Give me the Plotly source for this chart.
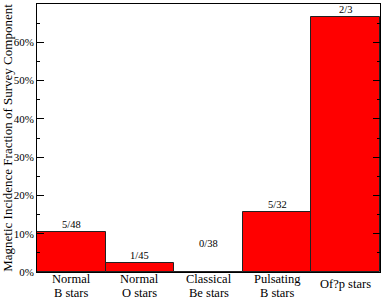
import plotly.graph_objects as go

categories = ["Normal B stars", "Normal O stars", "Classical Be stars", "Pulsating B stars", "Of?p stars"]
label_line1 = ["Normal", "Normal", "Classical", "Pulsating", "Of?p stars"]
label_line2 = ["B stars", "O stars", "Be stars", "B stars", ""]
detected = [5, 1, 0, 5, 2]
surveyed = [48, 45, 38, 32, 3]
fraction_labels = ["5/48", "1/45", "0/38", "5/32", "2/3"]
percent = [100.0 * d / n for d, n in zip(detected, surveyed)]
label_y = [percent[0], percent[1], 5.6, percent[3], percent[4]]

serif = "Liberation Serif"

fig = go.Figure()
fig.add_trace(go.Bar(
    x=categories, y=percent,
    marker=dict(color="#ff0000", line=dict(color="#222222", width=1)),
    width=1.0,
    hoverinfo="skip",
))

for c, t, y in zip(categories, fraction_labels, label_y):
    fig.add_annotation(x=c, y=y, text=t, showarrow=False, yanchor="bottom",
                       yshift=0, font=dict(family=serif, size=10.5, color="black"))

# category labels (two lines with tight spacing)
for c, l1, l2 in zip(categories, label_line1, label_line2):
    if l2:
        fig.add_annotation(x=c, y=0, yref="paper", text=l1, showarrow=False,
                           yanchor="middle", yshift=-6.5, borderpad=0,
                           font=dict(family=serif, size=12.5, color="black"))
        fig.add_annotation(x=c, y=0, yref="paper", text=l2, showarrow=False,
                           yanchor="middle", yshift=-20.5, borderpad=0,
                           font=dict(family=serif, size=12.5, color="black"))
    else:
        fig.add_annotation(x=c, y=0, yref="paper", text=l1, showarrow=False,
                           yanchor="middle", yshift=-11.5, borderpad=0,
                           font=dict(family=serif, size=12.5, color="black"))

fig.update_layout(
    width=381, height=297,
    margin=dict(l=37, r=1, t=4, b=25),
    paper_bgcolor="white", plot_bgcolor="white",
    showlegend=False,
    bargap=0,
    font=dict(family=serif, color="black"),
)
fig.update_xaxes(
    showline=True, linecolor="black", linewidth=1, mirror=True,
    ticks="", showgrid=False, showticklabels=False,
    range=[-0.5, 4.5], automargin=False,
)
fig.update_yaxes(
    range=[0, 70], dtick=10, ticksuffix="%",
    showline=True, linecolor="black", linewidth=1, mirror="ticks",
    ticks="inside", ticklen=7, tickwidth=1, tickcolor="black",
    minor=dict(dtick=5, ticks="inside", ticklen=3, tickcolor="black", showgrid=False),
    showgrid=False, zeroline=False, automargin=False,
    tickfont=dict(family=serif, size=11, color="black"),
    title=dict(text="Magnetic Incidence Fraction of Survey Component",
               font=dict(family=serif, size=13, color="black"), standoff=3),
)

fig.write_html("out.html", config={"displayModeBar": False},
               post_script="document.body.style.margin='0';document.body.style.padding='0';")
